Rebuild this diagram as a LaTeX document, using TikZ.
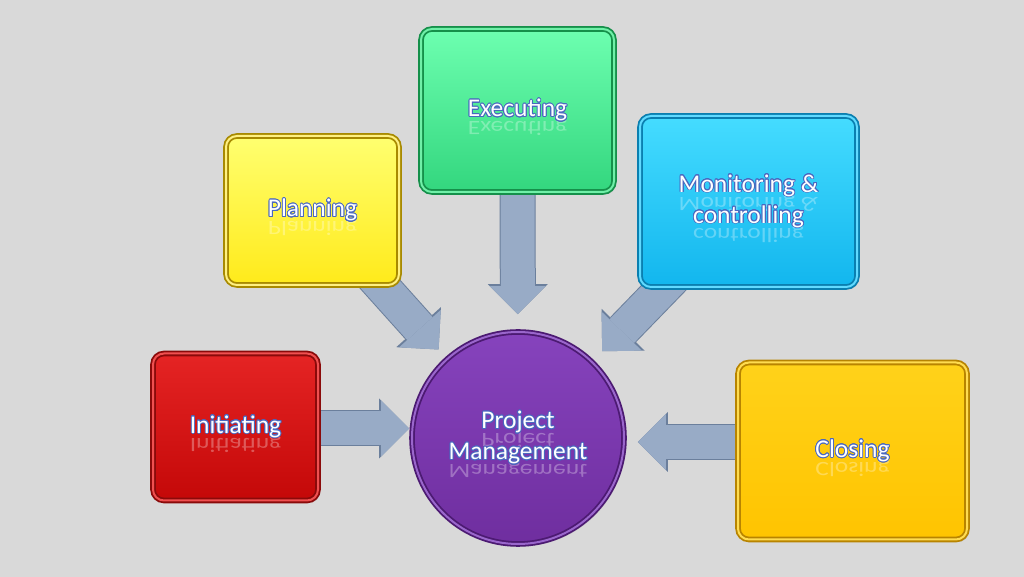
\documentclass[tikz,border=0pt]{standalone}
\usepackage{fontspec}
\setmainfont{Carlito}
\usepackage{graphicx}
\usepackage[copies]{contour}
\usetikzlibrary{arrows.meta,shadows}
\contourlength{0.8pt}
\contournumber{20}

\pgfdeclarelayer{bg}
\pgfsetlayers{bg,main}

\definecolor{bgray}{HTML}{D9D9D9}
\definecolor{txtblue}{HTML}{4A68C0}
\definecolor{arrfill}{HTML}{98ABC6}
\definecolor{arredge}{HTML}{6B7F9C}
% box colours: top, bottom, rim, rim light
\definecolor{inittop}{HTML}{E52424}\definecolor{initbot}{HTML}{C40808}
\definecolor{initrim}{HTML}{8A0A0A}\definecolor{initlit}{HTML}{F05050}
\definecolor{plantop}{HTML}{FFFF70}\definecolor{planbot}{HTML}{FFEA1A}
\definecolor{planrim}{HTML}{A88A00}\definecolor{planlit}{HTML}{FFF080}
\definecolor{exectop}{HTML}{6DFFB0}\definecolor{execbot}{HTML}{33D67E}
\definecolor{execrim}{HTML}{15904A}\definecolor{execlit}{HTML}{70F0A8}
\definecolor{montop}{HTML}{45DCFF}\definecolor{monbot}{HTML}{12B6EE}
\definecolor{monrim}{HTML}{0A7FB0}\definecolor{monlit}{HTML}{60DAFF}
\definecolor{closetop}{HTML}{FFD21A}\definecolor{closebot}{HTML}{FFC400}
\definecolor{closerim}{HTML}{B88400}\definecolor{closelit}{HTML}{FFDC50}
\definecolor{pmtop}{HTML}{8643BD}\definecolor{pmbot}{HTML}{6F2E9F}
\definecolor{pmrim}{HTML}{4C1A72}\definecolor{pmlit}{HTML}{9A66CC}

% white text with blue outline and a faint mirror image below it
\newcommand\shine[1]{\rlap{\raisebox{-5pt}[0pt][0pt]{\scalebox{1}[-0.8]{%
  \pgfsetfillopacity{0.3}\color{white}#1\pgfsetfillopacity{1}}}}\contour{txtblue}{#1}}

\tikzset{
  box/.style={rectangle, rounded corners=11pt, line width=1.8pt, double distance=2pt,
    text=white, align=center, font=\fontsize{25.5}{31}\selectfont,
    drop shadow={shadow xshift=2pt, shadow yshift=-2.5pt, opacity=0.3}},
  hub/.style={box, circle, minimum size=212},
  blockarrow/.style={draw=arrfill, line width=34pt,
    -{Triangle[length=28pt,width=56pt,line width=0pt]},
    preaction={draw=arredge, line width=36pt,
      -{Triangle[length=30pt,width=60pt,line width=0pt]}}}
}

\begin{document}
\begin{tikzpicture}[x=1pt,y=1pt]
  \useasboundingbox (0,0) rectangle (1024,577);

  % process groups
  \node[box, draw=initrim, double=initlit, top color=inittop, bottom color=initbot,
    minimum width=165, minimum height=147] (init) at (235.5,150) {\shine{Initiating}};
  \node[box, draw=planrim, double=planlit, top color=plantop, bottom color=planbot,
    minimum width=173, minimum height=149] (plan) at (312.5,366.5) {\shine{Planning}};
  \node[box, draw=execrim, double=execlit, top color=exectop, bottom color=execbot,
    minimum width=193, minimum height=163] (exec) at (517.5,466.5) {\shine{Executing}};
  \node[box, draw=monrim, double=monlit, top color=montop, bottom color=monbot,
    minimum width=217, minimum height=171] (mon) at (748.5,375.5)
    {\shine{Monitoring \&}\\\shine{controlling}};
  \node[box, draw=closerim, double=closelit, top color=closetop, bottom color=closebot,
    minimum width=229, minimum height=177] (close) at (852.5,126) {\shine{Closing}};

  % hub
  \node[hub, draw=pmrim, double=pmlit, top color=pmtop, bottom color=pmbot]
    (pm) at (518,139) {\shine{Project}\\\shine{Management}};

  \begin{pgfonlayer}{bg}
    \fill[bgray] (0,0) rectangle (1024,577);
    \coordinate (tipi) at ([yshift=9.5]pm.west);
    \coordinate (tipc) at ([yshift=-4]pm.east);
    \draw[blockarrow, shorten >=2pt] (init.center |- tipi) -- (tipi);
    \draw[blockarrow, shorten >=12pt] ([shift={(-30,13)}]plan.south east) -- (pm);
    \draw[blockarrow, shorten >=17pt] (exec.center) -- (pm);
    \draw[blockarrow, shorten >=14pt] ([shift={(42,18)}]mon.south west) -- (pm);
    \draw[blockarrow, shorten >=13pt] (close.center |- tipc) -- (tipc);
  \end{pgfonlayer}
\end{tikzpicture}
\end{document}
